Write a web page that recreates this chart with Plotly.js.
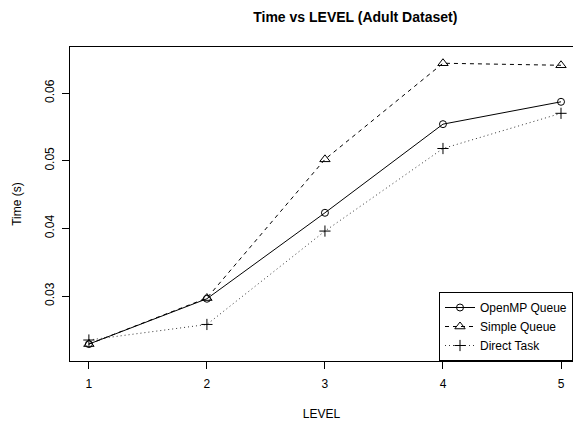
<!DOCTYPE html>
<html>
<head>
<meta charset="utf-8">
<script src="https://cdn.plot.ly/plotly-3.0.1.min.js"></script>
<style>html,body{margin:0;padding:0;background:#fff}#chart{width:573px;height:427px}</style>
</head>
<body>
<div id="chart"></div>
<script>
const levels = [1, 2, 3, 4, 5];
const openmpQueue = [0.0229, 0.0296, 0.0423, 0.0554, 0.0587];
const simpleQueue = [0.0229, 0.0297, 0.0502, 0.0644, 0.0641];
const directTask = [0.0235, 0.0258, 0.0396, 0.0518, 0.0570];
const seriesNames = ["OpenMP Queue", "Simple Queue", "Direct Task"];
const xTicks = [1, 2, 3, 4, 5];
const yTicks = [0.03, 0.04, 0.05, 0.06];

const FONT = "Liberation Sans, Arial, Helvetica, sans-serif";

const traces = [
  {x: levels, y: openmpQueue, name: seriesNames[0], mode: "lines+markers",
   line: {color: "#000", width: 1, dash: "solid"},
   marker: {symbol: "circle-open", size: 7, color: "#000", line: {width: 1, color: "#000"}}},
  {x: levels, y: simpleQueue, name: seriesNames[1], mode: "lines+markers",
   line: {color: "#000", width: 1, dash: "4px,4px"},
   marker: {symbol: "triangle-up-open", size: 9, color: "#000", line: {width: 1, color: "#000"}}},
  {x: levels, y: directTask, name: seriesNames[2], mode: "lines+markers",
   line: {color: "#333", width: 1, dash: "1px,3px"},
   marker: {symbol: "cross-thin-open", size: 8, color: "#000", line: {width: 1, color: "#000"}}}
];

const layout = {
  width: 573, height: 427,
  margin: {l: 70, r: 0, t: 47, b: 66},
  paper_bgcolor: "#fff", plot_bgcolor: "#fff",
  font: {family: FONT, size: 12, color: "#000"},
  title: {text: "<b>Time vs LEVEL (Adult Dataset)</b>", font: {family: FONT, size: 14, color: "#000"},
          x: 325/573, xanchor: "center", xref: "paper", y: 1 - 17/427, yanchor: "middle"},
  xaxis: {
    range: [0.84, 5.1017], tickvals: xTicks, ticktext: xTicks.map(String),
    ticks: "outside", ticklen: 7, tickcolor: "#000", tickwidth: 1, ticklabelstandoff: 5,
    showline: true, mirror: true, linecolor: "#000", linewidth: 1,
    showgrid: false, zeroline: false, automargin: false,
    tickfont: {family: FONT, size: 12, color: "#000"},
    title: {text: "LEVEL", font: {family: FONT, size: 12, color: "#000"}, standoff: 19}
  },
  yaxis: {
    range: [0.0204, 0.0668], tickvals: yTicks, ticktext: yTicks.map(v => v.toFixed(2)),
    ticks: "outside", ticklen: 7, tickcolor: "#000", tickwidth: 1, tickangle: -90, ticklabelstandoff: 3,
    showline: true, mirror: false, linecolor: "#000", linewidth: 1,
    showgrid: false, zeroline: false, automargin: false,
    tickfont: {family: FONT, size: 12, color: "#000"},
    title: {text: "Time (s)", font: {family: FONT, size: 12, color: "#000"}, standoff: 19}
  },
  legend: {
    x: 1, y: 0, xanchor: "right", yanchor: "bottom",
    bgcolor: "#fff", bordercolor: "#000", borderwidth: 1,
    font: {family: FONT, size: 12, color: "#000"},
    tracegroupgap: 0, itemwidth: 30
  },
  showlegend: true
};

Plotly.newPlot("chart", traces, layout, {displayModeBar: false, staticPlot: true});
</script>
</body>
</html>
